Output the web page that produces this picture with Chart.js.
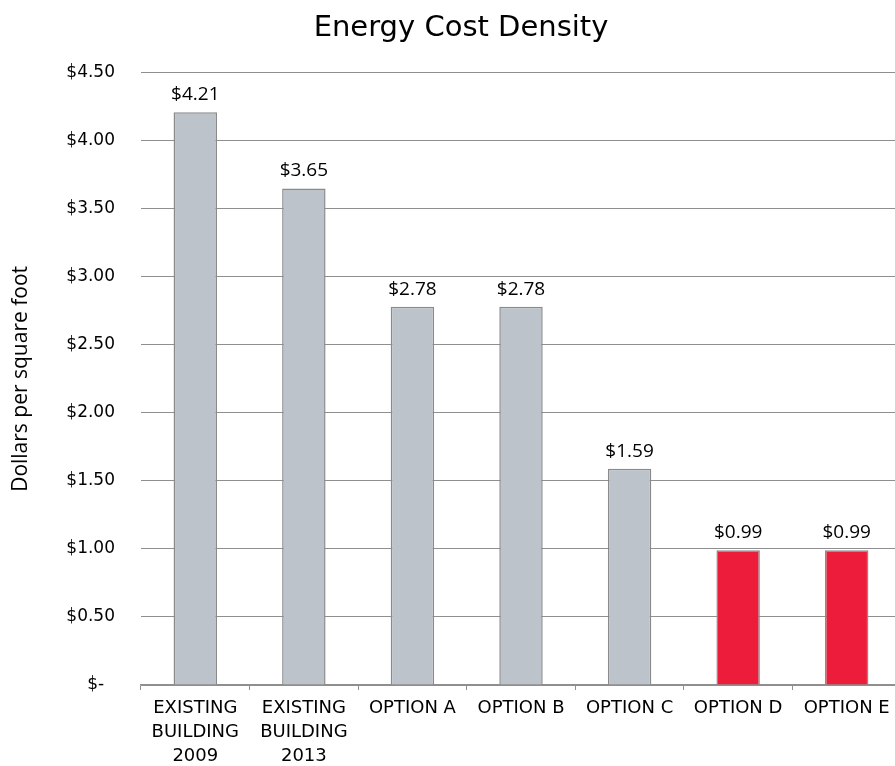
<!DOCTYPE html>
<html>
<head>
<meta charset="utf-8">
<script src="https://cdn.jsdelivr.net/npm/chart.js"></script>
<style>
  html, body { margin: 0; padding: 0; background: #fff; overflow: hidden; }
  #wrap { width: 922px; height: 766px; }
</style>
</head>
<body>
<div id="wrap"><canvas id="costChart"></canvas></div>
<script>
const categories = [
  ['EXISTING', 'BUILDING', '2009'],
  ['EXISTING', 'BUILDING', '2013'],
  'OPTION A',
  'OPTION B',
  'OPTION C',
  'OPTION D',
  'OPTION E',
];
const costPerSqFt = [4.21, 3.65, 2.78, 2.78, 1.59, 0.99, 0.99];
const yTicks = [0, 0.5, 1, 1.5, 2, 2.5, 3, 3.5, 4, 4.5];

const GREY = '#bdc3ca';
const RED = '#ec1c3a';
const barColors = [GREY, GREY, GREY, GREY, GREY, RED, RED];

// little plugin to write the value above each bar
const valueLabels = {
  id: 'valueLabels',
  afterDatasetsDraw(chart) {
    const ctx = chart.ctx;
    const meta = chart.getDatasetMeta(0);
    ctx.save();
    ctx.font = '19px "Open Sans"';
    ctx.fillStyle = '#000';
    ctx.textAlign = 'center';
    ctx.textBaseline = 'alphabetic';
    meta.data.forEach((bar, i) => {
      ctx.fillText('$' + costPerSqFt[i].toFixed(2), bar.x, bar.y - 12);
    });
    ctx.restore();
  },
};

const ctx = document.getElementById('costChart');
new Chart(ctx, {
  type: 'bar',
  data: {
    labels: categories,
    datasets: [
      {
        label: 'Energy Cost Density',
        data: costPerSqFt,
        backgroundColor: barColors,
        borderColor: '#8a8a8a',
        borderWidth: 1.5,
        categoryPercentage: 1,
        barPercentage: 0.4,
      },
    ],
  },
  options: {
    responsive: true,
    maintainAspectRatio: false,
    animation: false,
    layout: { padding: 0 },
    plugins: {
      legend: { display: false },
      tooltip: { enabled: false },
      title: {
        display: true,
        text: 'Energy Cost Density',
        color: '#000',
        font: { family: 'DejaVu Sans', size: 29, weight: 'normal', lineHeight: 1.2 },
        padding: { top: 11, bottom: 27 },
      },
    },
    scales: {
      x: {
        offset: true,
        grid: {
          offset: true,
          drawOnChartArea: false,
          drawTicks: true,
          tickLength: 5,
          color: '#8f8f8f',
        },
        border: { display: true, color: '#8f8f8f', width: 1.5 },
        ticks: {
          color: '#000',
          font: { family: 'DejaVu Sans', size: 18, lineHeight: 1.33 },
          padding: 6,
          maxRotation: 0,
          autoSkip: false,
        },
        afterFit(scale) {
          scale.height = 81;
        },
      },
      y: {
        min: 0,
        max: 4.5,
        afterBuildTicks(scale) {
          scale.ticks = yTicks.map((v) => ({ value: v }));
        },
        grid: { color: '#8f8f8f', lineWidth: 1, drawTicks: false },
        border: { display: false },
        ticks: {
          color: '#000',
          font: { family: 'DejaVu Sans', size: 17 },
          padding: 26,
          callback: (v) => (v === 0 ? '$-  ' : '$' + Number(v).toFixed(2)),
        },
        title: {
          display: true,
          text: 'Dollars per square foot',
          color: '#000',
          font: { family: 'Open Sans', size: 21, lineHeight: 1.2 },
          padding: { top: 8, bottom: 0 },
        },
        afterFit(scale) {
          scale.width = 141;
        },
      },
      // empty strip on the right so the plot stops short of the edge
      // while the title stays centred on the whole canvas
      yRight: {
        position: 'right',
        display: true,
        grid: { display: false },
        border: { display: false },
        ticks: { display: false },
        afterFit(scale) {
          scale.width = 21;
        },
      },
    },
  },
  plugins: [valueLabels],
});
</script>
</body>
</html>
